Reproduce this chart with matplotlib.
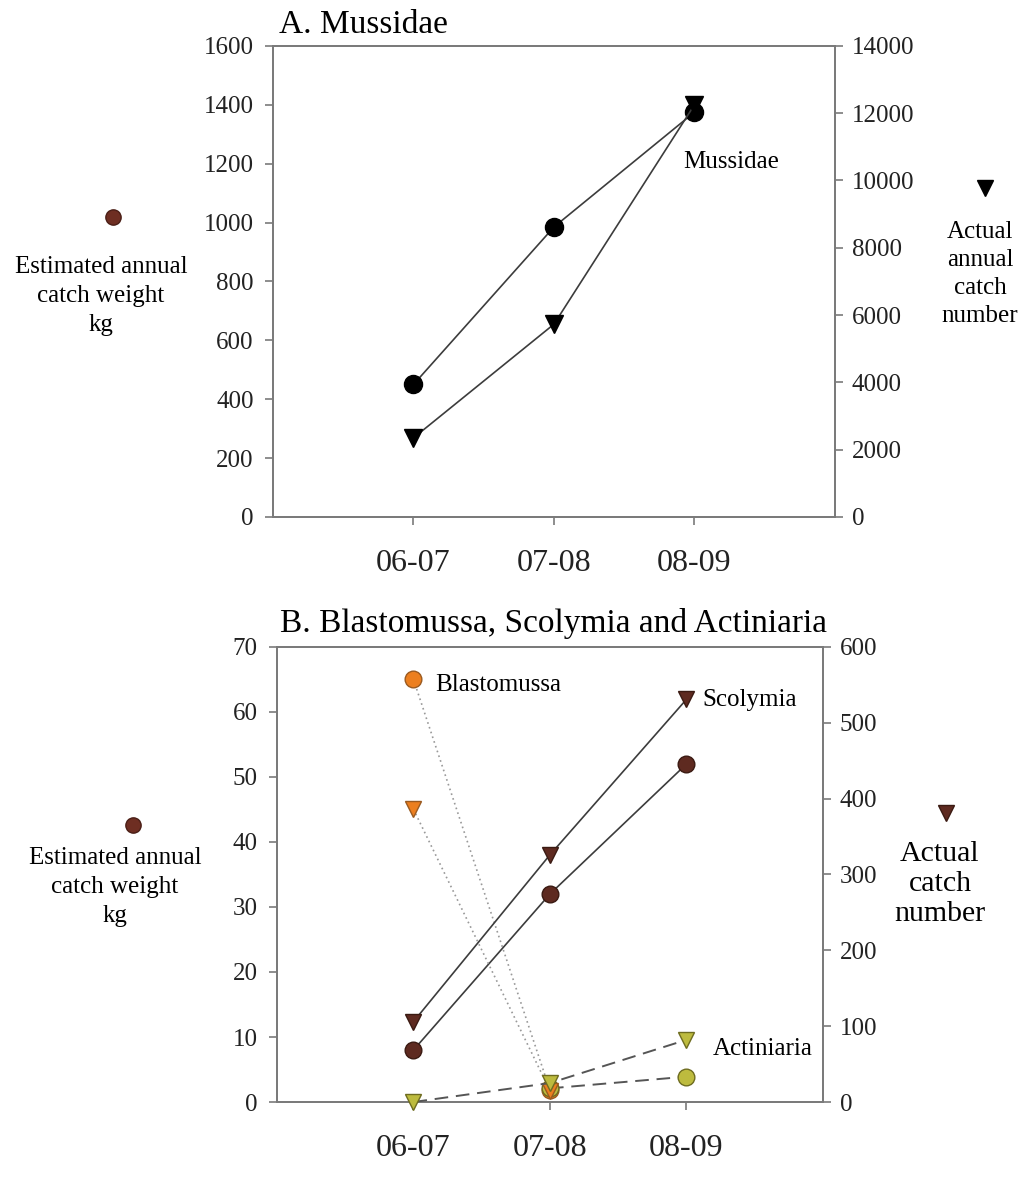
import matplotlib
matplotlib.use("Agg")
import numpy as np
import matplotlib.pyplot as plt
from matplotlib.lines import Line2D

plt.rcParams['font.family'] = ['Liberation Serif', 'DejaVu Serif']

seasons = ["06-07", "07-08", "08-09"]
xpos = [1, 2, 3]

# panel A: Mussidae
muss_weight = [450, 985, 1375]          # kg, left axis
muss_number = [2350, 5730, 12250]       # count, right axis

# panel B
blast_weight = [65, 1.8, np.nan]
blast_number = [386, 15, np.nan]
scol_weight = [8, 32, 52]
scol_number = [106, 326, 531]
actin_weight = [np.nan, 2.1, 3.9]
actin_number = [0, 25, 82]

SPINE = "#7a7a7a"
LINE = "#3c3c3c"
ORANGE = "#ec7f1f"
BROWN = "#5e2a20"
OLIVE = "#bdbb3e"
FS = 18

fig = plt.figure(figsize=(10.24, 11.8), dpi=100)


def style(ax, ax2, ylim, yticks, ylim2, yticks2):
    ax.set_xlim(0, 4)
    ax.set_xticks(xpos)
    ax.set_ylim(*ylim)
    ax.set_yticks(yticks)
    ax2.set_ylim(*ylim2)
    ax2.set_yticks(yticks2)
    for a in (ax, ax2):
        for s in a.spines.values():
            s.set_color(SPINE)
            s.set_linewidth(1.3)
        a.tick_params(direction="out", color=SPINE, width=1.2, length=6,
                      labelsize=FS, labelcolor="#222222", pad=6)
    ax.tick_params(axis="y", pad=8)
    ax.tick_params(axis="x", pad=17, labelsize=23)
    ax.set_xticklabels(seasons)


# ---- panel A ----
axA = fig.add_axes([0.2666, 0.5619, 0.5488, 0.3992])
axA2 = axA.twinx()
style(axA, axA2, (0, 1600), range(0, 1601, 200), (0, 14000), range(0, 14001, 2000))
axA.plot(xpos, muss_weight, color=LINE, lw=1.2, marker="o", ms=13,
         mfc="black", mec="black", zorder=3)
axA2.plot(xpos, muss_number, color=LINE, lw=1.2, marker="v", ms=13,
          mfc="black", mec="black", zorder=3)
axA.text(2.92, 1205, "Mussidae", fontsize=FS, va="center")
axA.set_title("A. Mussidae", loc="left", fontsize=24, pad=9, x=0.01)

# ---- panel B ----
axB = fig.add_axes([0.2705, 0.0661, 0.5332, 0.3856])
axB2 = axB.twinx()
style(axB, axB2, (0, 70), range(0, 71, 10), (0, 600), range(0, 601, 100))
axB.plot(xpos, blast_weight, color="#999999", lw=1.2, ls=(0, (1, 2)),
         marker="o", ms=12, mfc=ORANGE, mec="#9a5a20", zorder=3)
axB2.plot(xpos, blast_number, color="#999999", lw=1.2, ls=(0, (1, 2)),
          marker="v", ms=12, mfc=ORANGE, mec="#9a5a20", zorder=3)
axB.plot(xpos, scol_weight, color=LINE, lw=1.2, marker="o", ms=12,
         mfc=BROWN, mec="#3a1a12", zorder=3)
axB2.plot(xpos, scol_number, color=LINE, lw=1.2, marker="v", ms=12,
          mfc=BROWN, mec="#3a1a12", zorder=3)
axB.plot(xpos, actin_weight, color="#555555", lw=1.4, ls=(0, (7, 4)),
         marker="o", ms=12, mfc=OLIVE, mec="#6e6c20", zorder=4)
axB2.plot(xpos, actin_number, color="#555555", lw=1.4, ls=(0, (7, 4)),
          marker="v", ms=12, mfc=OLIVE, mec="#6e6c20", zorder=4, clip_on=False)
axB.text(1.16, 64.2, "Blastomussa", fontsize=FS, va="center")
axB2.text(3.12, 530, "Scolymia", fontsize=FS, va="center")
axB.text(3.19, 8.2, "Actiniaria", fontsize=FS, va="center")
axB.set_title("B. Blastomussa, Scolymia and Actiniaria", loc="left",
              fontsize=24, pad=11, x=0.005)

# ---- side keys ----
fig.add_artist(Line2D([113 / 1024], [1 - 217 / 1180], marker="o", ms=11,
                      mfc="#6e2e22", mec="#4a1e16", transform=fig.transFigure))
fig.text(101 / 1024, 1 - 296 / 1180, "Estimated annual\ncatch weight\nkg",
         ha="center", va="center", fontsize=FS, linespacing=1.4)
fig.add_artist(Line2D([985 / 1024], [1 - 188 / 1180], marker="v", ms=12,
                      mfc="black", mec="black", transform=fig.transFigure))
fig.text(980 / 1024, 1 - 274 / 1180, "Actual\nannual\ncatch\nnumber",
         ha="center", va="center", fontsize=FS, linespacing=1.35)

fig.add_artist(Line2D([133 / 1024], [1 - 825 / 1180], marker="o", ms=11,
                      mfc="#6e2e22", mec="#4a1e16", transform=fig.transFigure))
fig.text(115 / 1024, 1 - 887 / 1180, "Estimated annual\ncatch weight\nkg",
         ha="center", va="center", fontsize=FS, linespacing=1.4)
fig.add_artist(Line2D([946 / 1024], [1 - 813 / 1180], marker="v", ms=12,
                      mfc=BROWN, mec="#3a1a12", transform=fig.transFigure))
fig.text(940 / 1024, 1 - 884 / 1180, "Actual\ncatch\nnumber",
         ha="center", va="center", fontsize=21.5, linespacing=1.22)

fig.savefig("out.png", dpi=100)
